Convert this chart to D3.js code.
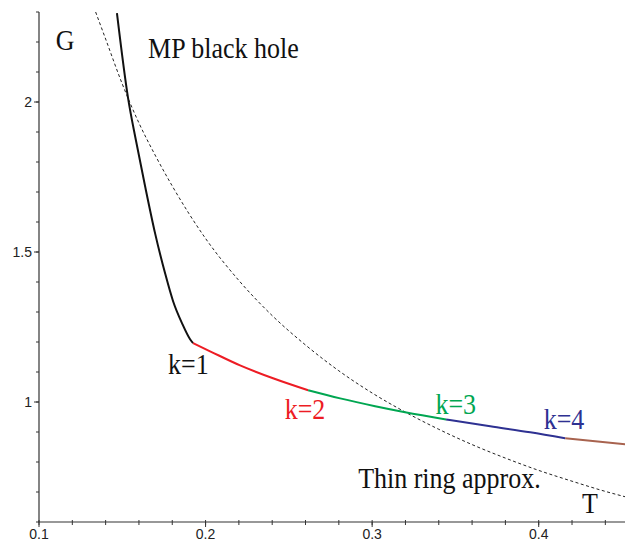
<!DOCTYPE html>
<html><head><meta charset="utf-8">
<script src="https://cdn.jsdelivr.net/npm/d3@7"></script>
<style>body{margin:0;background:#fff}svg{display:block}</style>
</head><body>
<svg id="c" width="625" height="542"></svg>
<script>
// Data (T, G)
const mpBlackHole = [[0.1468,2.296],[0.1535,2.012],[0.1583,1.869],[0.1637,1.719],[0.1697,1.562],[0.1757,1.429],[0.1805,1.336],[0.1859,1.262],[0.1907,1.209],[0.1925,1.196]];
const k2 = [[0.1925,1.196],[0.2027,1.169],[0.2207,1.122],[0.2405,1.079],[0.2616,1.039]];
const k3 = [[0.2616,1.039],[0.2808,1.012],[0.3018,0.986],[0.3198,0.966],[0.3444,0.942]];
const k4 = [[0.3444,0.942],[0.3709,0.919],[0.3949,0.899],[0.4159,0.879]];
const k5 = [[0.4159,0.879],[0.4339,0.869],[0.452,0.859]];
const thinRing = [[0.134,2.30],[0.14,2.21],[0.15,2.06],[0.16,1.93],[0.17,1.82],[0.18,1.72],[0.20,1.545],[0.22,1.405],[0.24,1.288],[0.26,1.19],[0.28,1.104],[0.30,1.03],[0.32,0.966],[0.34,0.909],[0.36,0.858],[0.38,0.813],[0.40,0.772],[0.42,0.736],[0.44,0.702],[0.452,0.684]];
const xTicks = [0.1,0.2,0.3,0.4];
const xTickLabels = ["0.1","0.2","0.3","0.4"];
const yTicks = [1,1.5,2];
const yTickLabels = ["1","1.5","2"];
const labels = [
  {text:"G", T:0.110, G:2.175, color:"#111"},
  {text:"MP black hole", T:0.1655, G:2.148, color:"#111"},
  {text:"k=1", T:0.1775, G:1.092, color:"#111"},
  {text:"k=2", T:0.2475, G:0.942, color:"#ed1c24"},
  {text:"k=3", T:0.3380, G:0.959, color:"#00a651"},
  {text:"k=4", T:0.4030, G:0.909, color:"#2e3192"},
  {text:"Thin ring approx.", T:0.2916, G:0.712, color:"#111"},
  {text:"T", T:0.4260, G:0.629, color:"#111"}
];

const svg = d3.select("#c");
const x = d3.scaleLinear().domain([0.1,0.45]).range([39,622]);
const y = d3.scaleLinear().domain([0.6,2.3]).range([522,12]);

// axes
const xAxis = svg.append("g").attr("transform","translate(0,522)");
xAxis.append("line").attr("x1",38.5).attr("x2",625).attr("stroke","#333").attr("stroke-width",1.2);
const xMinor = d3.range(0.10,0.4501,0.02);
xAxis.selectAll(".xm").data(xMinor).join("line").attr("x1",d=>x(d)).attr("x2",d=>x(d)).attr("y1",-2).attr("y2",3).attr("stroke","#333");
xAxis.selectAll(".xM").data(xTicks).join("line").attr("x1",d=>x(d)).attr("x2",d=>x(d)).attr("y1",0).attr("y2",5).attr("stroke","#333");
xAxis.selectAll("text").data(xTicks).join("text").attr("x",d=>x(d)).attr("y",17)
  .attr("text-anchor","middle").attr("font-family","Liberation Sans, Arial, sans-serif").attr("font-size",14).attr("fill","#222")
  .text((d,i)=>xTickLabels[i]);

const yAxis = svg.append("g").attr("transform","translate(39,0)");
yAxis.append("line").attr("y1",12).attr("y2",522).attr("stroke","#333").attr("stroke-width",1.2);
const yMinor = d3.range(0.6,2.301,0.1);
yAxis.selectAll(".ym").data(yMinor).join("line").attr("y1",d=>y(d)).attr("y2",d=>y(d)).attr("x1",-3).attr("x2",0).attr("stroke","#333");
yAxis.selectAll(".yM").data(yTicks).join("line").attr("y1",d=>y(d)).attr("y2",d=>y(d)).attr("x1",-5).attr("x2",0).attr("stroke","#333");
yAxis.selectAll("text").data(yTicks).join("text").attr("x",-7).attr("y",d=>y(d)+5)
  .attr("text-anchor","end").attr("font-family","Liberation Sans, Arial, sans-serif").attr("font-size",14).attr("fill","#222")
  .text((d,i)=>yTickLabels[i]);

const line = d3.line().x(d=>x(d[0])).y(d=>y(d[1])).curve(d3.curveMonotoneX);

svg.append("path").datum(thinRing).attr("d",line).attr("fill","none").attr("stroke","#222").attr("stroke-width",1).attr("stroke-dasharray","3,2.5");
const series = [[mpBlackHole,"#111"],[k2,"#ed1c24"],[k3,"#00a651"],[k4,"#2e3192"],[k5,"#a8634f"]];
series.forEach(([d,c])=>{
  svg.append("path").datum(d).attr("d",line).attr("fill","none").attr("stroke",c).attr("stroke-width",2);
});

svg.selectAll(".lbl").data(labels).join("text")
  .attr("transform",d=>`translate(${x(d.T)},${y(d.G)}) scale(1,1.15)`)
  .attr("font-family","Liberation Serif, Times New Roman, serif").attr("font-size",26)
  .attr("fill",d=>d.color).text(d=>d.text);
</script>
</body></html>
